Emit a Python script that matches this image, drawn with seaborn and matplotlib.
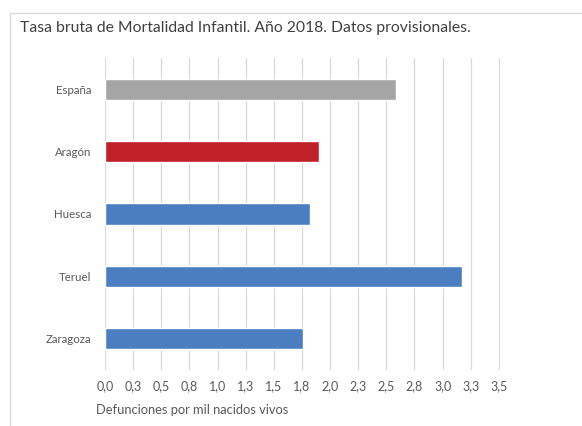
import matplotlib
matplotlib.use("Agg")
import matplotlib.pyplot as plt
import seaborn as sns
import pandas as pd
from matplotlib.patches import Rectangle

categories = ["España", "Aragón", "Huesca", "Teruel", "Zaragoza"]
values = [2.59, 1.90, 1.82, 3.17, 1.76]
bar_colors = ["#A5A5A5", "#C0202A", "#4A7EC1", "#4A7EC1", "#4A7EC1"]
tick_values = [0.0, 0.25, 0.5, 0.75, 1.0, 1.25, 1.5, 1.75, 2.0, 2.25, 2.5, 2.75, 3.0, 3.25, 3.5]
tick_labels = ["0,0", "0,3", "0,5", "0,8", "1,0", "1,3", "1,5", "1,8", "2,0", "2,3",
               "2,5", "2,8", "3,0", "3,3", "3,5"]
title = "Tasa bruta de Mortalidad Infantil. Año 2018. Datos provisionales."
xlabel = "Defunciones por mil nacidos vivos"

df = pd.DataFrame({"region": categories, "tasa": values})

sns.set_theme(style="white")
plt.rcParams["font.family"] = ["Lato", "DejaVu Sans"]

fig = plt.figure(figsize=(5.82, 4.26), dpi=100)
fig.patch.set_facecolor("white")

# outer chart frame (open at right/bottom as in the cropped screenshot)
fig.patches.append(Rectangle((10 / 582, -0.05), 1.2, 1 - 13 / 426 + 0.05,
                             transform=fig.transFigure, fill=False,
                             edgecolor="#D9D9D9", linewidth=1.0))

ax = fig.add_axes([105 / 582, 1 - 370 / 426, (500 - 105) / 582, (370 - 58) / 426])
sns.barplot(data=df, y="region", x="tasa", hue="region",
            palette=dict(zip(categories, bar_colors)), order=categories,
            width=0.34, orient="h", legend=False, ax=ax, saturation=1)

ax.set_xlim(0, 3.51)
ax.set_ylim(4.5, -0.5)
ax.set_xticks(tick_values)
ax.set_xticklabels(tick_labels)
ax.grid(axis="x", color="#D9D9D9", linewidth=0.9)
ax.grid(axis="y", visible=False)
ax.set_axisbelow(True)
for s in ax.spines.values():
    s.set_visible(False)
ax.set_xlabel("")
ax.set_ylabel("")
ax.tick_params(axis="both", length=0, colors="#595959")
ax.tick_params(axis="x", pad=7, labelsize=9)
ax.tick_params(axis="y", pad=10, labelsize=8.3)

fig.text(20 / 582, 1 - 28 / 426, title, fontsize=11.3, color="#404040",
         ha="left", va="center")
fig.text(96 / 582, 1 - 410 / 426, xlabel, fontsize=9.3, color="#595959",
         ha="left", va="center")

fig.savefig("out.png", dpi=100, facecolor="white")
